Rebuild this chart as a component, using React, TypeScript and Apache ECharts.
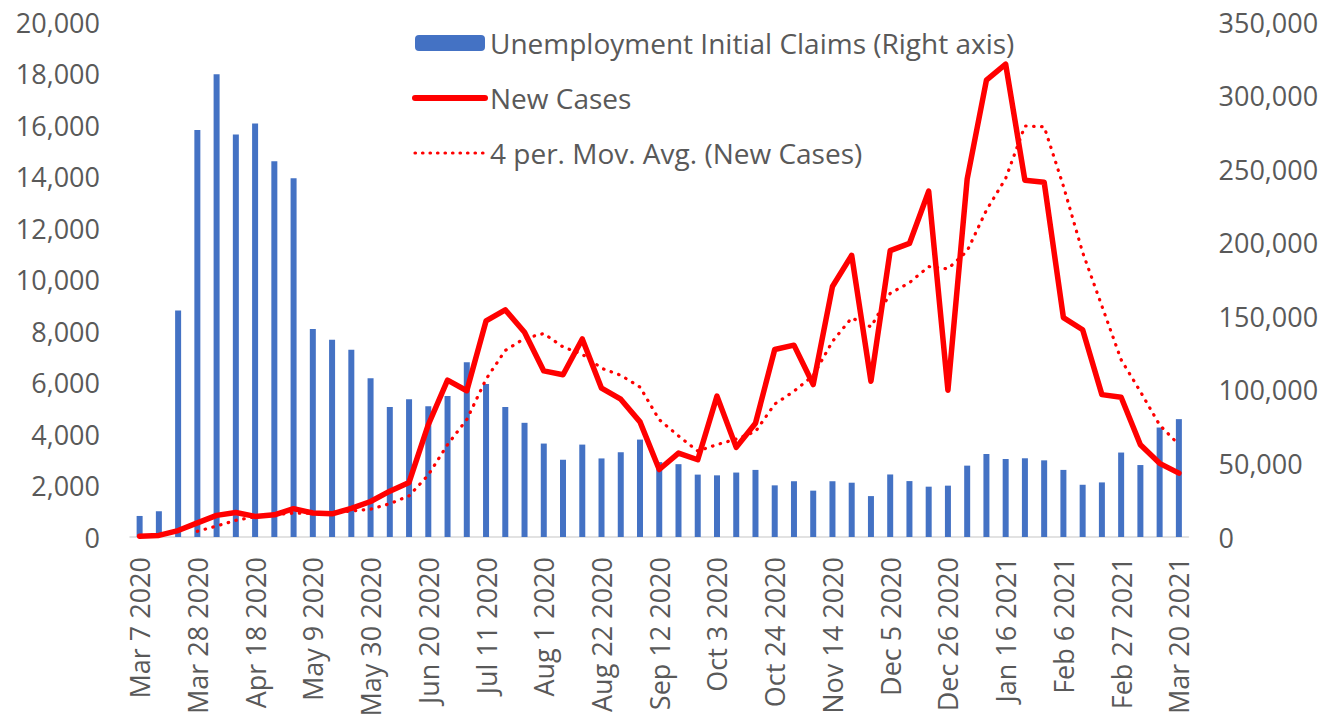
import React, { useEffect, useRef } from 'react';
import * as echarts from 'echarts';

const categories = [
  'Mar 7 2020', 'Mar 14 2020', 'Mar 21 2020', 'Mar 28 2020', 'Apr 4 2020', 'Apr 11 2020', 'Apr 18 2020',
  'Apr 25 2020', 'May 2 2020', 'May 9 2020', 'May 16 2020', 'May 23 2020', 'May 30 2020', 'Jun 6 2020',
  'Jun 13 2020', 'Jun 20 2020', 'Jun 27 2020', 'Jul 4 2020', 'Jul 11 2020', 'Jul 18 2020', 'Jul 25 2020',
  'Aug 1 2020', 'Aug 8 2020', 'Aug 15 2020', 'Aug 22 2020', 'Aug 29 2020', 'Sep 5 2020', 'Sep 12 2020',
  'Sep 19 2020', 'Sep 26 2020', 'Oct 3 2020', 'Oct 10 2020', 'Oct 17 2020', 'Oct 24 2020', 'Oct 31 2020',
  'Nov 7 2020', 'Nov 14 2020', 'Nov 21 2020', 'Nov 28 2020', 'Dec 5 2020', 'Dec 12 2020', 'Dec 19 2020',
  'Dec 26 2020', 'Jan 2 2021', 'Jan 9 2021', 'Jan 16 2021', 'Jan 23 2021', 'Jan 30 2021', 'Feb 6 2021',
  'Feb 13 2021', 'Feb 20 2021', 'Feb 27 2021', 'Mar 6 2021', 'Mar 13 2021', 'Mar 20 2021',
];

// Unemployment initial claims (right axis)
const initialClaims = [
  14300, 17500, 154000, 276600, 314500, 273500, 281000, 255300, 243800, 141400,
  134000, 127300, 107900, 88400, 93600, 88800, 95800, 118700, 104000, 88400,
  77600, 63500, 52500, 62800, 53400, 57600, 66200, 50900, 49500, 42400,
  41900, 43800, 45600, 35100, 37900, 31500, 37900, 36900, 27800, 42500,
  38000, 34200, 34900, 48500, 56400, 53000, 53500, 52100, 45600, 35500,
  37100, 57400, 48900, 74400, 80100,
];

// New cases (left axis)
const newCases = [
  30, 60, 250, 550, 840, 950, 800, 860, 1100, 930,
  900, 1110, 1380, 1780, 2120, 4360, 6090, 5680, 8390, 8820,
  7950, 6450, 6300, 7690, 5780, 5350, 4470, 2620, 3260, 3000,
  5470, 3480, 4420, 7280, 7450, 5920, 9730, 10940, 6050, 11120,
  11400, 13430, 5700, 13900, 17740, 18360, 13850, 13780, 8520, 8050,
  5530, 5430, 3580, 2860, 2480,
];

// 4 per. moving average trendline (left axis)
const movingAvg = [
  null, null, null, 222, 425, 648, 785, 863, 928, 923,
  948, 1010, 1080, 1293, 1598, 2410, 3588, 4563, 6130, 7245,
  7710, 7903, 7380, 7098, 6555, 6280, 5823, 4555, 3925, 3338,
  3588, 3803, 4093, 5163, 5658, 6268, 7595, 8510, 8160, 9460,
  9878, 10500, 10413, 11108, 12693, 13925, 15963, 15933, 13628, 11050,
  8970, 6883, 5648, 4350, 3588,
];

const FONT = 'Open Sans';
const GREY = '#595959';

export default function App() {
  const ref = useRef<HTMLDivElement>(null);
  useEffect(() => {
    const chart = echarts.init(ref.current!, null, { renderer: 'svg' });
    chart.setOption({
      animation: false,
      backgroundColor: '#ffffff',
      textStyle: { fontFamily: FONT },
      grid: { left: 130, right: 154.5, top: 22, bottom: 186, containLabel: false },
      legend: {
        orient: 'vertical',
        left: 407,
        top: 23,
        itemWidth: 70,
        itemHeight: 16,
        itemGap: 25,
        textStyle: { fontFamily: FONT, fontSize: 28, color: GREY, lineHeight: 30 },
        data: [
          { name: 'Unemployment Initial Claims (Right axis)' },
          {
            name: 'New Cases',
            itemStyle: { color: 'transparent', opacity: 0 },
            lineStyle: { color: '#FF0000', width: 6, cap: 'round' },
          },
          {
            name: '4 per. Mov. Avg. (New Cases)',
            itemStyle: { color: 'transparent', opacity: 0 },
            lineStyle: { color: '#FF0000', width: 3.2, type: [0.5, 7], cap: 'round' },
          },
        ],
      },
      xAxis: {
        type: 'category',
        data: categories,
        boundaryGap: true,
        axisLine: { show: true, lineStyle: { color: '#D9D9D9', width: 1.5 } },
        axisTick: { show: false },
        axisLabel: {
          interval: 2,
          rotate: 90,
          margin: 20,
          fontFamily: FONT,
          fontSize: 27,
          color: GREY,
        },
        splitLine: { show: false },
      },
      yAxis: [
        {
          type: 'value',
          min: 0,
          max: 20000,
          interval: 2000,
          position: 'left',
          axisLine: { show: false },
          axisTick: { show: false },
          splitLine: { show: false },
          axisLabel: {
            margin: 30,
            fontFamily: FONT,
            fontSize: 27,
            color: GREY,
            formatter: (v: number) => v.toLocaleString('en-US'),
          },
        },
        {
          type: 'value',
          min: 0,
          max: 350000,
          interval: 50000,
          position: 'right',
          axisLine: { show: false },
          axisTick: { show: false },
          splitLine: { show: false },
          axisLabel: {
            margin: 30,
            fontFamily: FONT,
            fontSize: 27,
            color: GREY,
            formatter: (v: number) => v.toLocaleString('en-US'),
          },
        },
      ],
      series: [
        {
          name: 'Unemployment Initial Claims (Right axis)',
          type: 'bar',
          yAxisIndex: 1,
          data: initialClaims,
          barWidth: 6,
          itemStyle: { color: '#4472C4' },
          z: 1,
        },
        {
          name: 'New Cases',
          type: 'line',
          yAxisIndex: 0,
          data: newCases,
          symbol: 'none',
          lineStyle: { color: '#FF0000', width: 5.5, cap: 'round', join: 'round' },
          itemStyle: { color: '#FF0000' },
          z: 3,
        },
        {
          name: '4 per. Mov. Avg. (New Cases)',
          type: 'line',
          yAxisIndex: 0,
          data: movingAvg,
          symbol: 'none',
          connectNulls: false,
          lineStyle: { color: '#FF0000', width: 3.2, type: [0.5, 7.5], cap: 'round', join: 'round' },
          itemStyle: { color: '#FF0000' },
          z: 2,
        },
      ],
    });
    return () => chart.dispose();
  }, []);
  return (
    <div
      ref={ref}
      style={{ position: 'absolute', left: 0, top: 0, width: 1343, height: 723, background: '#ffffff' }}
    />
  );
}
